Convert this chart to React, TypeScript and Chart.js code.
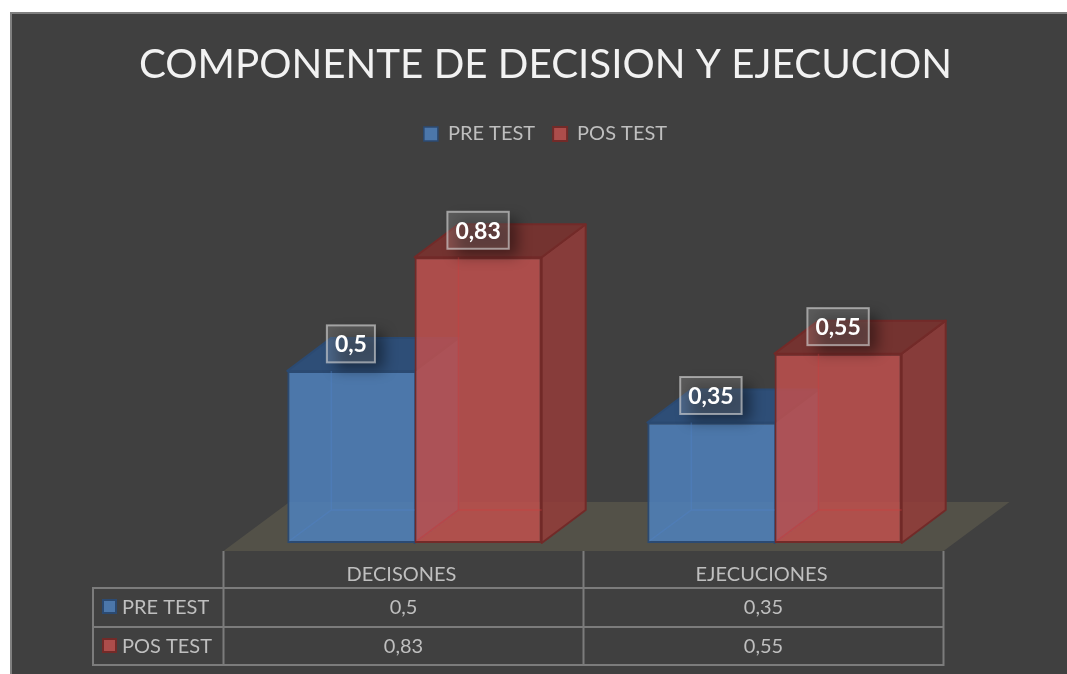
import React, { useEffect, useRef } from "react";
import { Chart, registerables } from "chart.js";

Chart.register(...registerables);

const TITLE = "COMPONENTE DE DECISION Y EJECUCION";
const categories = ["DECISONES", "EJECUCIONES"];
const seriesNames = ["PRE TEST", "POS TEST"];
const preTest = [0.5, 0.35];
const posTest = [0.83, 0.55];

const FONT = "Lato";
const TEXT = "#bfbfbf";
const GRID = "#7c7c7c";
const DX = 44;
const DY = 33;
const PERSPECTIVE = 11;

const front = ["rgba(79,129,189,0.85)", "rgba(192,80,77,0.85)"];
const edge = ["#2b4a72", "#722a28"];
const side = ["rgba(64,105,155,0.85)", "rgba(148,60,58,0.85)"];
const top = ["rgba(44,80,125,0.9)", "rgba(122,50,47,0.9)"];
const inner = ["rgba(79,129,200,0.4)", "rgba(205,60,60,0.4)"];

const poly = (ctx: CanvasRenderingContext2D, pts: number[][]) => {
  ctx.beginPath();
  pts.forEach(([x, y], i) => (i ? ctx.lineTo(x, y) : ctx.moveTo(x, y)));
  ctx.closePath();
};

const scenePlugin = {
  id: "scene",
  beforeDraw(chart: any) {
    const { ctx, width, height } = chart;
    ctx.save();
    ctx.fillStyle = "#ffffff";
    ctx.fillRect(0, 0, width, height);
    ctx.fillStyle = "#404040";
    ctx.fillRect(10, 12, width - 10, height - 12);
    ctx.strokeStyle = "#808080";
    ctx.lineWidth = 2;
    ctx.beginPath();
    ctx.moveTo(11, height);
    ctx.lineTo(11, 13);
    ctx.lineTo(width, 13);
    ctx.stroke();
    ctx.restore();
  },
  beforeDatasetsDraw(chart: any) {
    const { ctx, scales } = chart;
    const x = scales.x;
    const y = scales.y;
    ctx.save();
    // floor
    const fl = x.left - PERSPECTIVE;
    const fr = x.right - PERSPECTIVE;
    const fb = y.bottom + 8;
    poly(ctx, [
      [fl, fb],
      [fr, fb],
      [fr + 66, fb - 49],
      [fl + 66, fb - 49],
    ]);
    ctx.fillStyle = "#535148";
    ctx.fill();
    // side and top faces
    chart.data.datasets.forEach((_: any, d: number) => {
      chart.getDatasetMeta(d).data.forEach((bar: any) => {
        const half = bar.width / 2;
        const l = bar.x - half;
        const r = bar.x + half;
        const t = bar.y;
        const b = bar.base;
        ctx.lineWidth = 2;
        ctx.lineJoin = "round";
        ctx.strokeStyle = edge[d];
        poly(ctx, [
          [r, t],
          [r + DX, t - DY],
          [r + DX, b - DY],
          [r, b],
        ]);
        ctx.fillStyle = side[d];
        ctx.fill();
        ctx.stroke();
        poly(ctx, [
          [l, t],
          [r, t],
          [r + DX, t - DY],
          [l + DX, t - DY],
        ]);
        ctx.fillStyle = top[d];
        ctx.fill();
        ctx.stroke();
      });
    });
    ctx.restore();
  },
  afterDatasetsDraw(chart: any) {
    const { ctx, scales } = chart;
    const x = scales.x;
    const y = scales.y;
    ctx.save();
    // faint hidden edges seen through the translucent fronts
    chart.data.datasets.forEach((_: any, d: number) => {
      chart.getDatasetMeta(d).data.forEach((bar: any) => {
        const half = bar.width / 2;
        const l = bar.x - half;
        const r = bar.x + half;
        ctx.strokeStyle = inner[d];
        ctx.lineWidth = 1.5;
        ctx.beginPath();
        ctx.moveTo(l + DX, bar.y);
        ctx.lineTo(l + DX, bar.base - DY);
        ctx.lineTo(r, bar.base - DY);
        ctx.moveTo(l + 2, bar.base - 2);
        ctx.lineTo(l + DX, bar.base - DY);
        ctx.stroke();
      });
    });
    // data labels
    chart.data.datasets.forEach((ds: any, d: number) => {
      chart.getDatasetMeta(d).data.forEach((bar: any, i: number) => {
        const text = String(ds.data[i]).replace(".", ",");
        ctx.font = `bold 23px ${FONT}`;
        const w = ctx.measureText(text).width + 16;
        const h = 37;
        const bx = bar.x - w / 2;
        const by = bar.y - 27 - h / 2;
        ctx.save();
        ctx.shadowColor = "rgba(0,0,0,0.42)";
        ctx.shadowBlur = 14;
        ctx.shadowOffsetX = 5000 + 9;
        ctx.shadowOffsetY = 7;
        ctx.fillStyle = "#000";
        ctx.fillRect(bx - 5000, by, w, h);
        ctx.restore();
        ctx.fillStyle = "rgba(255,255,255,0.14)";
        ctx.fillRect(bx, by, w, h);
        ctx.strokeStyle = "rgba(217,217,217,0.62)";
        ctx.lineWidth = 2;
        ctx.strokeRect(bx, by, w, h);
        ctx.fillStyle = "#ffffff";
        ctx.textAlign = "center";
        ctx.textBaseline = "middle";
        ctx.fillText(text, bar.x, by + h / 2 + 1);
      });
    });
    // data table
    const colL = x.left - PERSPECTIVE;
    const colW = x.width / categories.length;
    const colR = x.right - PERSPECTIVE;
    const rows = [y.bottom + 45, y.bottom + 84, y.bottom + 122];
    const tableTop = y.bottom + 8;
    const keyL = 93;
    ctx.strokeStyle = GRID;
    ctx.lineWidth = 2;
    ctx.beginPath();
    rows.forEach((ry) => {
      ctx.moveTo(keyL - 1, ry);
      ctx.lineTo(colR + 1, ry);
    });
    ctx.moveTo(keyL, rows[0]);
    ctx.lineTo(keyL, rows[2]);
    categories.forEach((_, c) => {
      ctx.moveTo(colL + c * colW, tableTop);
      ctx.lineTo(colL + c * colW, rows[2]);
    });
    ctx.moveTo(colR, tableTop);
    ctx.lineTo(colR, rows[2]);
    ctx.stroke();

    ctx.font = `20px ${FONT}`;
    ctx.fillStyle = TEXT;
    ctx.textBaseline = "middle";
    ctx.textAlign = "center";
    categories.forEach((name, c) => {
      const cx = colL + (c + 0.5) * colW;
      ctx.fillText(name, cx - 2, (tableTop + rows[0]) / 2 + 5);
      chart.data.datasets.forEach((ds: any, d: number) => {
        ctx.fillText(String(ds.data[c]).replace(".", ","), cx, rows[d] + 20);
      });
    });
    ctx.textAlign = "left";
    chart.data.datasets.forEach((ds: any, d: number) => {
      const cy = rows[d] + 19;
      ctx.fillStyle = front[d];
      ctx.strokeStyle = edge[d];
      ctx.lineWidth = 2;
      ctx.fillRect(103, cy - 7, 13, 13);
      ctx.strokeRect(103, cy - 7, 13, 13);
      ctx.fillStyle = TEXT;
      ctx.fillText(ds.label, 122, cy + 1);
    });
    ctx.restore();
  },
};

export default function App() {
  const ref = useRef<HTMLCanvasElement>(null);
  useEffect(() => {
    const chart = new Chart(ref.current as HTMLCanvasElement, {
      type: "bar",
      data: {
        labels: categories,
        datasets: [
          {
            label: seriesNames[0],
            data: preTest,
            backgroundColor: front[0],
            borderColor: edge[0],
            borderWidth: { top: 2, right: 0, bottom: 2, left: 2 },
            borderSkipped: false,
          },
          {
            label: seriesNames[1],
            data: posTest,
            backgroundColor: front[1],
            borderColor: edge[1],
            borderWidth: 2,
            borderSkipped: false,
          },
        ],
      },
      options: {
        responsive: false,
        animation: false,
        events: [],
        layout: { padding: { left: 24, right: 0, top: 45, bottom: 131 } },
        datasets: { bar: { categoryPercentage: 0.7066, barPercentage: 1 } },
        plugins: {
          tooltip: { enabled: false },
          title: {
            display: true,
            text: TITLE,
            color: "#f2f2f2",
            font: { family: FONT, size: 40.3, weight: "400", lineHeight: 1 },
            padding: { top: 0, bottom: 20.7 },
          },
          legend: {
            display: true,
            position: "top",
            labels: {
              color: TEXT,
              font: { family: FONT, size: 20 },
              boxWidth: 14,
              boxHeight: 14,
              padding: 18,
            },
          },
        },
        scales: {
          x: { display: false },
          y: {
            display: true,
            position: "left",
            min: 0,
            max: 1.13,
            afterFit: (s: any) => {
              s.width = 210.5;
            },
            grid: { display: false },
            border: { display: false },
            ticks: { display: false },
          },
          pad: {
            display: true,
            position: "right",
            min: 0,
            max: 1.13,
            afterFit: (s: any) => {
              s.width = 112.5;
            },
            grid: { display: false },
            border: { display: false },
            ticks: { display: false },
          },
        },
      } as any,
      plugins: [scenePlugin],
    });
    return () => chart.destroy();
  }, []);
  return (
    <div style={{ position: "fixed", left: 0, top: 0, width: 1067, height: 674 }}>
      <canvas ref={ref} width={1067} height={674} style={{ display: "block" }} />
    </div>
  );
}
